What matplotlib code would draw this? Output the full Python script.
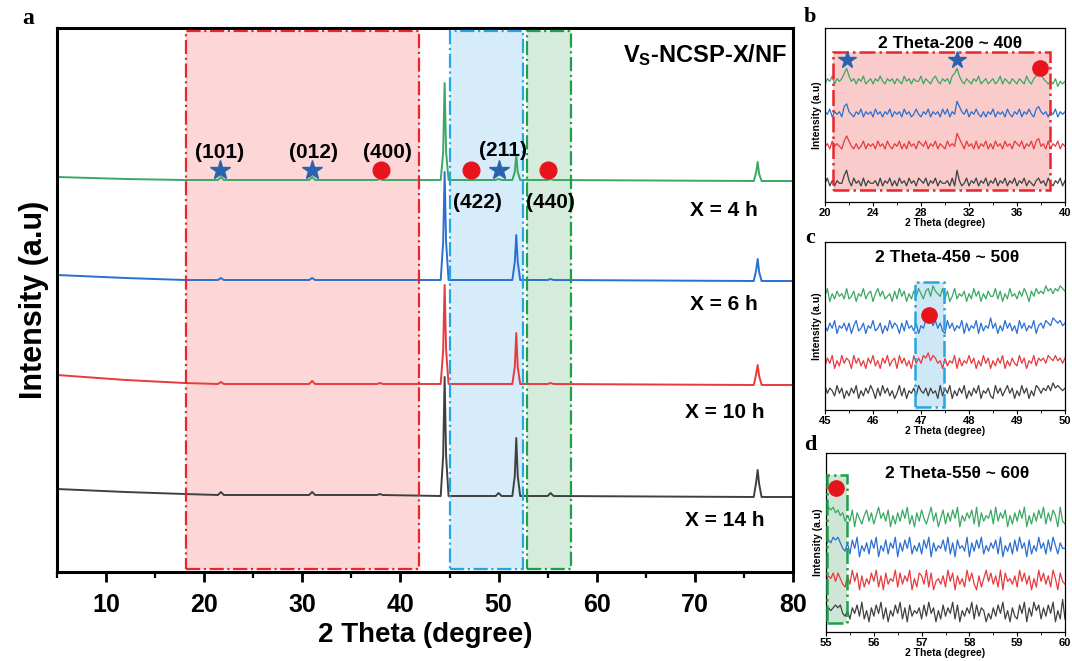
import matplotlib
matplotlib.use("Agg")
import matplotlib.pyplot as plt
from matplotlib.patches import Rectangle
from matplotlib.ticker import MultipleLocator
import numpy as np

plt.rcParams['font.family'] = ['Liberation Sans', 'DejaVu Sans']
plt.rcParams['font.weight'] = 'bold'
plt.rcParams['axes.labelweight'] = 'bold'
plt.rcParams['mathtext.fontset'] = 'custom'
plt.rcParams['mathtext.rm'] = 'Liberation Sans:bold'

# ---- main panel data (2 theta, intensity a.u. with offsets) ----
main_x = [5, 12, 18, 21.4, 21.7, 22.0, 30.7, 31.0, 31.3, 37.6, 37.9, 38.2,
          44.1, 44.35, 44.5, 44.65, 44.9, 49.7, 50.0, 50.3,
          51.4, 51.65, 51.8, 51.95, 52.2, 55.0, 55.3, 55.6,
          76.0, 76.25, 76.4, 76.55, 76.8, 80]
green_4h = [395, 393, 392, 392, 395, 392, 392, 395, 392, 392, 393, 392,
            392, 420, 489, 420, 392, 392, 393, 392,
            392, 400, 417, 400, 392, 392, 393, 392,
            391, 400, 410, 398, 391, 391]
blue_6h = [297, 294, 292, 292, 294, 292, 292, 294, 292, 292, 292, 292,
           292, 330, 400, 330, 292, 292, 292, 292,
           292, 310, 337, 310, 292, 292, 293, 292,
           291, 302, 313, 300, 291, 291]
red_10h = [197, 192, 189, 188, 190, 188, 188, 191, 188, 188, 189, 188,
           188, 222, 287, 222, 188, 188, 188, 188,
           188, 205, 239, 205, 188, 188, 189, 188,
           187, 198, 207, 196, 187, 187]
black_14h = [83, 80, 78, 77, 80, 77, 77, 80, 77, 77, 78, 77,
             76, 116, 195, 116, 76, 76, 79, 76,
             76, 96, 134, 96, 76, 76, 79, 76,
             75, 90, 102, 88, 75, 75]
series_labels = ['X = 4 h', 'X = 6 h', 'X = 10 h', 'X = 14 h']
colors = ['#3aa863', '#2a6fd1', '#e83a3d', '#404040']

region_x = [(18.15, 41.9), (45.05, 52.5), (52.9, 57.4)]
region_fill = ['#fdd7d7', '#d6ecfa', '#d5ebdc']
region_edge = ['#e8262b', '#27a5e0', '#1ea04a']

star_x = [21.6, 31.0, 50.0]
star_y = [402, 402, 402]
circle_x = [38.0, 47.2, 55.05]
circle_y = [402, 402, 402]
hkl = ['(101)', '(012)', '(400)', '(211)', '(422)', '(440)']
hkl_x = [21.6, 31.1, 38.7, 50.4, 47.8, 55.3]
hkl_y = [420, 420, 420, 422, 369, 369]

# ---- inset data: digit = noise level ----
b_green = ("3546354579" "6453546345" "3546435453" "5436453544" "6354356435"
           "4536796435" "4354634534" "5346354354" "3543643568" "7543435243" "4")
b_blue = ("5463545378" "5435463545" "3645354635" "4536453464" "3546354536"
          "4635497546" "3546435354" "6354536435" "4635464367" "5453546354" "5")
b_red = ("4536454368" "6435346354" "5364536435" "4635364536" "5463546354"
         "3645497536" "4536354635" "3645364536" "5463546367" "4536354635" "4")
b_black = ("4635354479" "5364536354" "4536354635" "3645364536" "5463546354"
           "4536395346" "3546354635" "4635463546" "3546354356" "4536435463" "5")

c_green = ("4725364537" "3462547356" "2574634526" "3746253647" "5367486547"
           "3624735462" "5374625364" "4736253745" "3647526475" "6586757687" "6")
c_blue = ("5364725463" "6257346254" "7346253746" "5263745362" "5476857463"
          "2746354726" "3547263548" "4625374635" "2746354725" "6476587675" "6")
c_red = ("3647253746" "5274635264" "7352647356" "2746352746" "4768576452"
         "6354726354" "7462537462" "5364725364" "3746254736" "5647657564" "6")
c_black = ("7465374625" "3647253647" "5263746352" "4736254637" "5463645273"
           "6472536472" "5364725463" "2746357462" "5374625376" "4657586765" "6")

d_green = ("6878675635" "3716425736" "2584637152" "6374825163" "7425836147"
           "2637481536" "4728163547" "2836471526" "3748152637" "4826375183" "2")
d_blue = ("5768786436" "2748153627" "4815372648" "1637482536" "2748163547"
          "3826174538" "1637482536" "4728153627" "3846172538" "4627385264" "4")
d_red = ("4657475326" "3847162537" "4826173548" "2736481527" "6382714536"
         "2847163528" "4731625847" "3628174536" "2847361528" "4736285174" "3")
d_black = ("5656767435" "2647382516" "3748261537" "4826173546" "2738461527"
           "3648271536" "4827365142" "6374825163" "2748163857" "2637481529" "2")

W, H = 1072, 661
fig = plt.figure(figsize=(10.72, 6.61), dpi=100)


def px_axes(l, t, r, b):
    return fig.add_axes([l / W, 1 - b / H, (r - l) / W, (b - t) / H])


ax = px_axes(57, 28, 793, 572)
ax.set_xlim(5, 80)
ax.set_ylim(0, 544)

for (x0, x1), fc, ec in zip(region_x, region_fill, region_edge):
    ax.add_patch(Rectangle((x0, 3), x1 - x0, 538, facecolor=fc, edgecolor='none', zorder=0))
    ax.add_patch(Rectangle((x0, 3), x1 - x0, 538, fill=False, edgecolor=ec,
                           linestyle='-.', linewidth=1.6, zorder=3))

for ys, c in zip([green_4h, blue_6h, red_10h, black_14h], colors):
    ax.plot(main_x, ys, color=c, lw=1.4, zorder=2)

ax.plot(star_x, star_y, '*', color='#2b62ad', ms=15, zorder=4, lw=0)
ax.plot(circle_x, circle_y, 'o', color='#e8141b', ms=12, zorder=4, lw=0)
for s, x, y in zip(hkl, hkl_x, hkl_y):
    ax.text(x, y, s, ha='center', va='center', fontsize=15, zorder=5)

for s, y in zip(series_labels, [362, 267, 160, 52]):
    ax.text(73.0, y, s, ha='center', va='center', fontsize=15)

ax.text(79.4, 517, r'$\mathrm{V_S}$-NCSP-X/NF', ha='right', va='center', fontsize=17)

ax.set_xticks(range(10, 81, 10))
ax.xaxis.set_minor_locator(MultipleLocator(5))
ax.set_yticks([])
ax.tick_params(axis='x', which='major', direction='out', length=7, width=2, labelsize=18, pad=8)
ax.tick_params(axis='x', which='minor', direction='out', length=4, width=1.6)
for sp in ax.spines.values():
    sp.set_linewidth(2.2)
ax.set_xlabel('2 Theta (degree)', fontsize=20, labelpad=4)
ax.set_ylabel('Intensity (a.u)', fontsize=22, labelpad=6)
fig.text(28 / W, 1 - 18 / H, 'a', family='Liberation Serif', fontweight='bold',
         fontsize=17, ha='center', va='center')


def inset(rect, xlim, ylim, major, minor, curves, bases, scale, box, box_fc, box_ec,
          title, title_xy, letter, letter_y):
    a = px_axes(*rect)
    a.set_xlim(*xlim)
    a.set_ylim(*ylim)
    x = np.linspace(xlim[0], xlim[1], 101)
    for s, base, c in zip(curves, bases, colors):
        y = [base + (int(ch) - 4.5) * scale for ch in s]
        a.plot(x, y, color=c, lw=0.9, zorder=2)
    bx0, bx1, by0, by1 = box
    a.add_patch(Rectangle((bx0, by0), bx1 - bx0, by1 - by0, facecolor=box_fc,
                          edgecolor='none', zorder=0))
    a.add_patch(Rectangle((bx0, by0), bx1 - bx0, by1 - by0, fill=False, edgecolor=box_ec,
                          linestyle='-.', linewidth=1.8, zorder=3))
    a.text(title_xy[0], title_xy[1], title, ha='center', va='center', fontsize=12.5, zorder=5)
    a.set_xticks(major)
    a.xaxis.set_minor_locator(MultipleLocator(minor))
    a.set_yticks([])
    a.tick_params(axis='x', which='major', direction='out', length=3, width=0.8, labelsize=8, pad=1)
    a.tick_params(axis='x', which='minor', direction='out', length=2, width=0.6)
    for sp in a.spines.values():
        sp.set_linewidth(0.9)
    a.set_xlabel('2 Theta (degree)', fontsize=7.5, labelpad=0)
    a.set_ylabel('Intensity (a.u)', fontsize=7.5, labelpad=2)
    fig.text(810 / W, 1 - letter_y / H, letter, family='Liberation Serif', fontweight='bold',
             fontsize=16, ha='center', va='center')
    return a


ab = inset((825, 28, 1065, 202), (20, 40), (0, 174), [20, 24, 28, 32, 36, 40], 2,
           [b_green, b_blue, b_red, b_black], [122, 89, 57, 20], 2.6,
           (20.67, 38.75, 12, 150), '#f9cbcb', '#e8262b',
           '2 Theta-20θ ~ 40θ', (30.4, 159), 'b', 17)
ab.plot([21.8, 31.0], [142, 142], '*', color='#2b62ad', ms=13, lw=0, zorder=4)
ab.plot([37.9], [134], 'o', color='#e8141b', ms=11, lw=0, zorder=4)

ac = inset((825, 242, 1065, 410), (45, 50), (0, 168), [45, 46, 47, 48, 49, 50], 0.5,
           [c_green, c_blue, c_red, c_black], [115, 83, 48, 18], 2.6,
           (46.875, 47.48, 3, 128), '#cfe8f7', '#27a5e0',
           '2 Theta-45θ ~ 50θ', (47.54, 153), 'c', 238)
ac.plot([47.17], [95], 'o', color='#e8141b', ms=11, lw=0, zorder=4)

ad = inset((826, 453, 1065, 632), (55, 60), (0, 179), [55, 56, 57, 58, 59, 60], 0.5,
           [d_green, d_blue, d_red, d_black], [115, 85, 52, 20], 2.8,
           (55.02, 55.44, 9, 157), '#cfe6d7', '#1ea04a',
           '2 Theta-55θ ~ 60θ', (57.74, 159), 'd', 445)
ad.plot([55.2], [144], 'o', color='#e8141b', ms=11, lw=0, zorder=4)

fig.savefig('out.png', dpi=100)
